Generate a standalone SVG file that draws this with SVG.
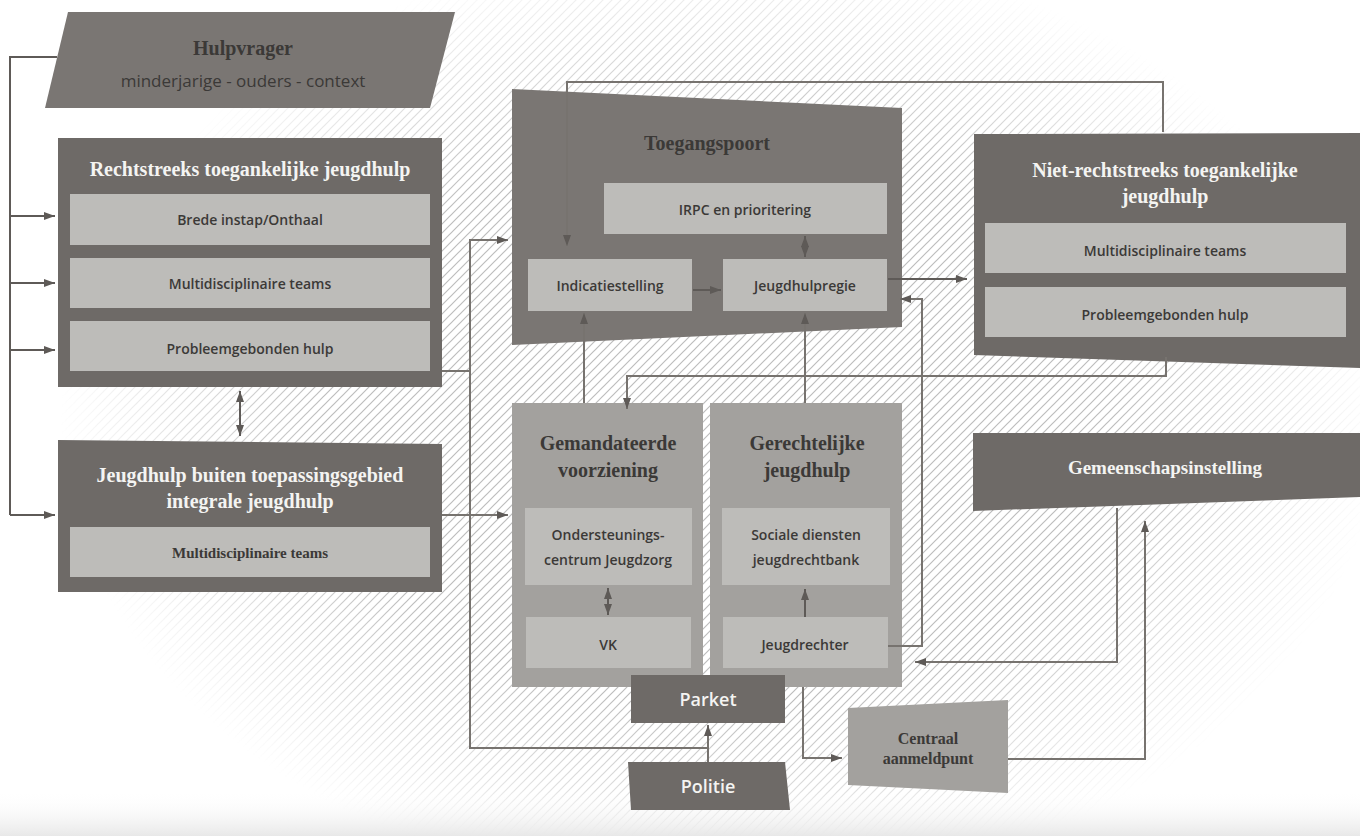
<svg xmlns="http://www.w3.org/2000/svg" width="1360" height="836" viewBox="0 0 1360 836">
<defs>
<pattern id="hatch" patternUnits="userSpaceOnUse" width="9" height="9">
<path d="M0,9 L9,0 M-1,1 L1,-1 M8,10 L10,8" stroke="#bdbdbd" stroke-width="1.2"/>
</pattern>
<radialGradient id="fade" cx="720" cy="420" r="660" gradientUnits="userSpaceOnUse" gradientTransform="translate(720 420) scale(1 0.72) translate(-720 -420)">
<stop offset="0" stop-color="#fff"/>
<stop offset="0.6" stop-color="#fff"/>
<stop offset="1" stop-color="#000"/>
</radialGradient>
<mask id="m"><rect width="1360" height="836" fill="url(#fade)"/></mask>
<linearGradient id="bottom" x1="0" y1="0" x2="0" y2="1">
<stop offset="0" stop-color="#fff" stop-opacity="0"/>
<stop offset="1" stop-color="#e8e8e8"/>
</linearGradient>
<marker id="ah" markerUnits="userSpaceOnUse" markerWidth="12" markerHeight="10" refX="11" refY="4" orient="auto-start-reverse">
<path d="M0,0 L11,4 L0,8 Z" fill="#5e5a57"/>
</marker>
<style>
.dark{fill:#6e6a67}
.hv{fill:#7a7673}
.mid{fill:#a3a19e}
.light{fill:#bdbcb9}
.tw{font-family:"Liberation Serif",serif;font-weight:bold;font-size:20px;fill:#f4f4f2;text-anchor:middle}
.td{font-family:"Liberation Serif",serif;font-weight:bold;font-size:20px;fill:#3b3937;text-anchor:middle}
.ts{font-family:"Open Sans","Noto Sans",sans-serif;font-weight:600;font-size:14px;fill:#3b3937;text-anchor:middle}
.tsw{font-family:"Open Sans","Noto Sans",sans-serif;font-weight:600;font-size:18px;fill:#f4f4f2;text-anchor:middle}
.conn{fill:none;stroke:#5e5a57;stroke-width:2}
.connl{fill:none;stroke:#77736f;stroke-width:2}
</style>
</defs>
<rect width="1360" height="836" fill="#ffffff"/>
<rect width="1360" height="836" fill="url(#hatch)" mask="url(#m)"/>
<rect y="790" width="1360" height="46" fill="url(#bottom)"/>

<g id="hulpvrager">
<polygon class="hv" points="68,12 455,12 430,108 45,108"/>
<text class="td" x="243" y="55">Hulpvrager</text>
<text x="243" y="87" style="font-family:'Open Sans','Noto Sans',sans-serif;font-size:17px;fill:#3b3937;text-anchor:middle">minderjarige - ouders - context</text>
</g>

<g id="rechtstreeks">
<rect class="dark" x="58" y="138" width="384" height="249"/>
<text class="tw" x="250" y="176">Rechtstreeks toegankelijke jeugdhulp</text>
<rect class="light" x="70" y="194" width="360" height="51"/>
<text class="ts" x="250" y="225">Brede instap/Onthaal</text>
<rect class="light" x="70" y="258" width="360" height="50"/>
<text class="ts" x="250" y="289">Multidisciplinaire teams</text>
<rect class="light" x="70" y="321" width="360" height="50"/>
<text class="ts" x="250" y="354">Probleemgebonden hulp</text>
</g>

<g id="buiten">
<polygon class="dark" points="58,440 442,444 442,592 58,592"/>
<text class="tw" x="250" y="482">Jeugdhulp buiten toepassingsgebied</text>
<text class="tw" x="250" y="508">integrale jeugdhulp</text>
<rect class="light" x="70" y="527" width="360" height="50"/>
<text x="250" y="558" style="font-family:'Liberation Serif',serif;font-weight:bold;font-size:15px;fill:#3b3937;text-anchor:middle">Multidisciplinaire teams</text>
</g>

<g id="toegangspoort">
<polygon class="hv" points="512,89 902,108 902,327 512,345"/>
<text class="td" x="707" y="150">Toegangspoort</text>
</g>
<g id="irpc">
<rect class="light" x="604" y="183" width="283" height="51"/>
<text class="ts" x="745" y="215">IRPC en prioritering</text>
</g>
<g id="indicatiestelling">
<rect class="light" x="528" y="259" width="164" height="52"/>
<text class="ts" x="610" y="291">Indicatiestelling</text>
</g>
<g id="jeugdhulpregie">
<rect class="light" x="723" y="259" width="164" height="52"/>
<text class="ts" x="805" y="291">Jeugdhulpregie</text>
</g>

<g id="nietrechtstreeks">
<polygon class="dark" points="974,134 1360,133 1360,368 974,355"/>
<text class="tw" x="1165" y="177">Niet-rechtstreeks toegankelijke</text>
<text class="tw" x="1165" y="203">jeugdhulp</text>
<rect class="light" x="985" y="223" width="361" height="50"/>
<text class="ts" x="1165" y="256">Multidisciplinaire teams</text>
<rect class="light" x="985" y="287" width="361" height="50"/>
<text class="ts" x="1165" y="320">Probleemgebonden hulp</text>
</g>

<g id="gemandateerde">
<rect class="mid" x="512" y="403" width="191" height="284"/>
<text class="td" x="608" y="450">Gemandateerde</text>
<text class="td" x="608" y="477">voorziening</text>
</g>
<g id="ondersteuningscentrum">
<rect class="light" x="525" y="508" width="167" height="77"/>
<text class="ts" x="608" y="540">Ondersteunings-</text>
<text class="ts" x="608" y="565">centrum Jeugdzorg</text>
</g>
<g id="vk">
<rect class="light" x="526" y="617" width="165" height="51"/>
<text class="ts" x="608" y="650">VK</text>
</g>

<g id="gerechtelijke">
<rect class="mid" x="710" y="403" width="192" height="284"/>
<text class="td" x="807" y="450">Gerechtelijke</text>
<text class="td" x="807" y="477">jeugdhulp</text>
</g>
<g id="socialediensten">
<rect class="light" x="722" y="508" width="168" height="77"/>
<text class="ts" x="806" y="540">Sociale diensten</text>
<text class="ts" x="806" y="565">jeugdrechtbank</text>
</g>
<g id="jeugdrechter">
<rect class="light" x="723" y="617" width="165" height="51"/>
<text class="ts" x="805" y="650">Jeugdrechter</text>
</g>

<g id="parket">
<rect class="dark" x="631" y="675" width="154" height="48"/>
<text class="tsw" x="708" y="706">Parket</text>
</g>
<g id="politie">
<polygon class="dark" points="628,762 785,762 790,810 631,810"/>
<text class="tsw" x="708" y="793">Politie</text>
</g>

<g id="gemeenschapsinstelling">
<polygon class="dark" points="973,433 1360,433 1360,497 973,511"/>
<text class="tw" x="1165" y="474" style="font-size:19px">Gemeenschapsinstelling</text>
</g>

<g id="centraal">
<polygon class="mid" points="848,708 1008,700 1008,793 848,785"/>
<text class="td" x="928" y="744" style="font-size:16px">Centraal</text>
<text class="td" x="928" y="764" style="font-size:16px">aanmeldpunt</text>
</g>

<g id="connectors">
<path class="conn" d="M57,57 H10 V515"/>
<path class="conn" d="M10,216 H55" marker-end="url(#ah)"/>
<path class="conn" d="M10,283 H55" marker-end="url(#ah)"/>
<path class="conn" d="M10,350 H55" marker-end="url(#ah)"/>
<path class="conn" d="M10,515 H55" marker-end="url(#ah)"/>
<path class="conn" d="M240,391 V436" marker-start="url(#ah)" marker-end="url(#ah)"/>
<path class="connl" d="M442,371 H470"/>
<path class="connl" d="M708,762 V748 H470 V240 H508" marker-end="url(#ah)"/>
<path class="connl" d="M708,762 V725" marker-end="url(#ah)"/>
<path class="connl" d="M442,515 H508" marker-end="url(#ah)"/>
<path class="conn" d="M693,290 H721" marker-end="url(#ah)"/>
<path class="conn" d="M805,236 V257" marker-start="url(#ah)" marker-end="url(#ah)"/>
<path class="conn" d="M888,279 H967" marker-end="url(#ah)"/>
<path class="connl" d="M1163,132 V82 H567 V246" marker-end="url(#ah)"/>
<path class="connl" d="M1166,357 V376 H627 V409" marker-end="url(#ah)"/>
<path class="connl" d="M584,403 V313" marker-end="url(#ah)"/>
<path class="connl" d="M805,403 V313" marker-end="url(#ah)"/>
<path class="conn" d="M608,588 V615" marker-start="url(#ah)" marker-end="url(#ah)"/>
<path class="conn" d="M805,617 V589" marker-end="url(#ah)"/>
<path class="connl" d="M888,646 H922 V299 H900" marker-end="url(#ah)"/>
<path class="connl" d="M1117,508 V662 H915" marker-end="url(#ah)"/>
<path class="connl" d="M1008,759 H1145 V521" marker-end="url(#ah)"/>
<path class="connl" d="M803,687 V758 H842" marker-end="url(#ah)"/>
</g>
</svg>
